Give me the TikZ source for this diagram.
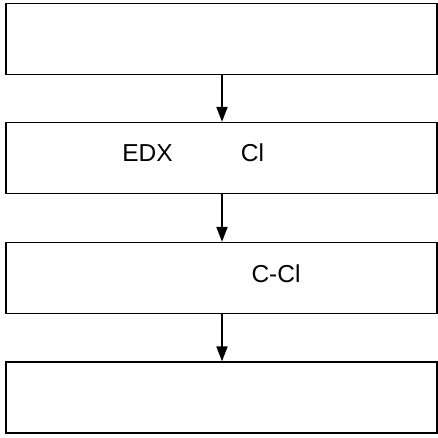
\documentclass[tikz,border=0pt]{standalone}
\usepackage{fontspec}
\setmainfont{Liberation Sans}
\usetikzlibrary{arrows.meta}

\begin{document}
\begin{tikzpicture}[x=1pt,y=-1pt,
    box/.style={draw,line width=1.3pt,minimum width=431pt,minimum height=71pt,inner sep=0pt},
    txt/.style={anchor=base,inner sep=0pt,font=\fontsize{24.5}{29}\selectfont},
    link/.style={line width=2pt,-{Triangle[width=11pt,length=15pt]}}]
            \useasboundingbox (0,0) rectangle (438,437);
            \node (A) at (221.5,39) [box] {};
            \node (B) at (221.5,158) [box] {};
            \node (C) at (221.5,278) [box] {};
            \node (D) at (221.5,397.5) [box] {};
            \node (EDX) at (147.5,161.7) [txt] {EDX};
            \node (Cl) at (252.5,161.7) [txt] {Cl};
            \node (CCl) at (276,282.2) [txt] {C-Cl};
            \draw [link] (A.south -| 222,0) -- (B.north -| 222,0);
            \draw [link] (B.south -| 222,0) -- (C.north -| 222,0);
            \draw [link] (C.south -| 222,0) -- (D.north -| 222,0);
        \end{tikzpicture}
\end{document}
